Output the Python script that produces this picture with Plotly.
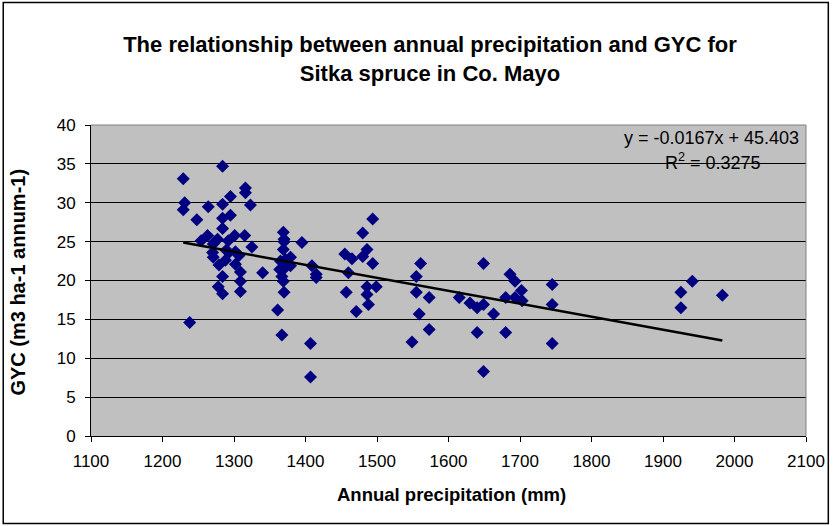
import plotly.graph_objects as go

# Annual precipitation (mm) and GYC (m3 ha-1 annum-1)
precip = [
    1229, 1231, 1229, 1238, 1248, 1254, 1264, 1263, 1284, 1284,
    1295, 1316, 1316, 1323, 1295, 1284, 1284, 1273, 1277, 1271,
    1292, 1301, 1315, 1325, 1270, 1271, 1289, 1293, 1302, 1307,
    1279, 1288, 1302, 1309, 1309, 1284, 1278, 1284, 1309, 1340,
    1369, 1370, 1370, 1395, 1369, 1365, 1372, 1379, 1379, 1364,
    1369, 1367, 1369, 1409, 1415, 1415, 1370, 1361, 1367, 1407,
    1407,
    1480, 1494, 1455, 1465, 1486, 1480, 1494, 1460, 1457, 1486,
    1499, 1486, 1488, 1471,
    1561, 1555, 1555, 1573, 1559, 1573, 1549,
    1615, 1630, 1640, 1649, 1649, 1663, 1640, 1649, 1680, 1693,
    1702, 1703, 1693, 1686, 1680,
    1745, 1745, 1745,
    1925, 1925, 1941, 1983,
]
gyc = [
    33.1, 30.0, 29.1, 14.6, 27.8, 25.1, 29.5, 25.8, 34.7, 29.8,
    30.8, 31.9, 31.3, 29.7, 28.4, 28.0, 26.7, 25.0, 25.3, 24.7,
    25.1, 25.8, 25.8, 24.3, 23.6, 23.0, 23.9, 23.6, 23.7, 23.2,
    22.0, 22.6, 22.1, 21.1, 19.9, 20.5, 19.2, 18.3, 18.6, 21.0,
    26.2, 25.3, 25.0, 24.9, 24.0, 22.5, 22.7, 23.0, 21.9, 21.4,
    21.4, 20.5, 19.9, 21.9, 20.8, 20.4, 18.5, 16.2, 13.0, 11.9,
    7.6,
    26.1, 27.9, 23.4, 22.8, 24.0, 23.1, 22.2, 21.0, 18.5, 19.2,
    19.2, 18.2, 16.9, 16.0,
    22.2, 20.5, 18.5, 17.8, 15.7, 13.7, 12.1,
    17.8, 17.1, 16.5, 16.9, 22.2, 15.7, 13.3, 8.3, 17.8, 17.8,
    18.7, 17.4, 19.9, 20.8, 13.3,
    19.5, 16.9, 11.9,
    18.5, 16.5, 19.9, 18.1,
]

# linear trendline as printed on the chart
slope = -0.0167
intercept = 45.403
trend_x = [min(precip), max(precip)]
trend_y = [slope * v + intercept for v in trend_x]

x_ticks = list(range(1100, 2101, 100))
y_ticks = list(range(0, 41, 5))

# plot-area geometry in pixels (for placing text / frame in paper units)
W, H = 837, 526
ML, MR, MT, MB = 91, 25, 125, 90
PW, PH = W - ML - MR, H - MT - MB


def px(x):
    return (x - ML) / PW


def py(y):
    return (H - MB - y) / PH


FONT = 'Liberation Sans, Arial, sans-serif'

fig = go.Figure()
fig.add_trace(go.Scatter(
    x=precip, y=gyc, mode='markers',
    marker={'symbol': 'diamond', 'size': 10, 'color': '#000080',
            'line': {'width': 0}},
    showlegend=False,
))
fig.add_trace(go.Scatter(
    x=trend_x, y=trend_y, mode='lines',
    line={'color': 'black', 'width': 2.5},
    showlegend=False,
))

fig.update_layout(
    width=W, height=H, autosize=False,
    margin={'l': ML, 'r': MR, 't': MT, 'b': MB},
    paper_bgcolor='white',
    plot_bgcolor='#C0C0C0',
    font={'family': FONT, 'size': 17, 'color': 'black'},
    title={
        'text': 'The relationship between annual precipitation and GYC for<br>Sitka spruce in Co. Mayo',
        'x': 430 / W, 'xanchor': 'center',
        'y': 1 - 52 / H, 'yanchor': 'middle',
        'font': {'family': FONT, 'size': 22, 'color': 'black', 'weight': 'bold'},
    },
)
fig.update_xaxes(
    range=[1100, 2100], tickvals=x_ticks,
    showgrid=False, zeroline=False,
    showline=True, linecolor='black', linewidth=1,
    ticks='outside', ticklen=5, tickcolor='black',
    tickfont={'size': 17}, ticklabelstandoff=5,
)
fig.update_yaxes(
    range=[0, 40], tickvals=y_ticks,
    showgrid=True, gridcolor='black', gridwidth=1,
    zeroline=False,
    showline=True, linecolor='black', linewidth=1,
    ticks='outside', ticklen=5, tickcolor='black',
    tickfont={'size': 17}, ticklabelstandoff=6,
)

# gray frame on top/right of plot area, outer chart border
fig.add_shape(type='line', xref='paper', yref='paper', x0=0, x1=1, y0=1, y1=1,
              line={'color': '#808080', 'width': 1}, layer='above')
fig.add_shape(type='line', xref='paper', yref='paper', x0=1, x1=1, y0=0, y1=1,
              line={'color': '#808080', 'width': 1}, layer='above')
fig.add_shape(type='rect', xref='paper', yref='paper',
              x0=px(2.5), x1=px(834.5), y0=py(523.5), y1=py(2.5),
              line={'color': 'black', 'width': 1.5})

fig.add_annotation(
    text='<b>Annual precipitation (mm)</b>', xref='paper', yref='paper',
    x=px(455), y=py(494), xanchor='center', yanchor='middle',
    showarrow=False, font={'size': 18.5},
)
fig.add_annotation(
    text='<b>GYC (m3 ha-1 annum-1)</b>', xref='paper', yref='paper',
    x=px(17), y=py(282), xanchor='center', yanchor='middle',
    textangle=-90, showarrow=False, font={'size': 20},
)
fig.add_annotation(
    text='y = -0.0167x + 45.403', xref='paper', yref='paper',
    x=px(807), y=py(138), xanchor='right', yanchor='middle',
    showarrow=False, font={'size': 18},
)
fig.add_annotation(
    text='R<sup>2</sup> = 0.3275', xref='paper', yref='paper',
    x=px(718), y=py(161), xanchor='center', yanchor='middle',
    showarrow=False, font={'size': 18},
)

# drop the page's default body margin / scrollbars so the chart sits at the origin
fig.write_html(
    'out.html',
    config={'displayModeBar': False, 'responsive': False},
    post_script="document.body.style.margin='0';document.body.style.overflow='hidden';"
                "document.documentElement.style.overflow='hidden';",
)
